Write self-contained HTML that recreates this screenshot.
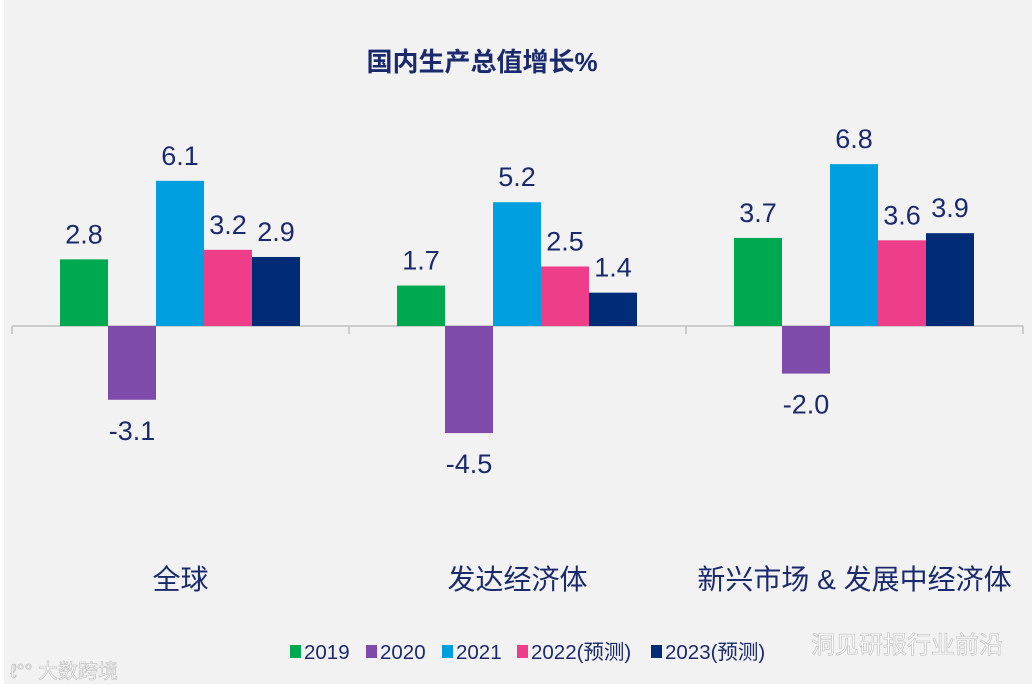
<!DOCTYPE html>
<html><head><meta charset="utf-8"><style>
body{margin:0;background:#fff;}
svg text{font-family:"Liberation Sans","Noto Sans CJK SC",sans-serif;}
</style></head><body>
<svg width="1036" height="688">
<rect x="4" y="0" width="1028" height="684" fill="#f2f2f2"/>
<text x="482" y="71" text-anchor="middle" font-size="26" font-weight="bold" fill="#1a2a6c">国内生产总值增长%</text>
<g id="bars"></g>
<g id="legend"></g>
<text x="1003" y="653" text-anchor="end" font-size="24" fill="#fff" stroke="#bbb" stroke-width="0.6">洞见研报行业前沿</text>
<text x="10" y="678" font-size="20" fill="#fff" stroke="#bbb" stroke-width="0.6">ℓ°° 大数跨境</text>
</svg>
<script>
const categories=["全球","发达经济体","新兴市场 & 发展中经济体"];
const seriesNames=["2019","2020","2021","2022(预测)","2023(预测)"];
const colors=["#00a94f","#7f4baa","#009fe0","#ee3e8a","#002b77"];
const values=[[2.8,1.7,3.7],[-3.1,-4.5,-2.0],[6.1,5.2,6.8],[3.2,2.5,3.6],[2.9,1.4,3.9]];
const NS="http://www.w3.org/2000/svg";
const base=326, unit=23.8, groupX0=12, groupW=337, barW=48, barOff=48;
const y=v=>base-v*unit;
const g=document.getElementById('bars');
function mk(t,a){const e=document.createElementNS(NS,t);for(const k in a)e.setAttribute(k,a[k]);return e;}
const axis=mk('line',{x1:12,y1:base,x2:1023,y2:base,stroke:'#bfbfbf','stroke-width':1.5});


g.appendChild(axis);
for(let i=0;i<=categories.length;i++){
 const t=mk('line',{x1:groupX0+i*groupW,y1:base,x2:groupX0+i*groupW,y2:base+8,stroke:'#bfbfbf','stroke-width':1.5});
 
 
 g.appendChild(t);
}
categories.forEach((c,ci)=>{
 const gx=groupX0+ci*groupW;
 const lab=mk('text',{x:gx+groupW/2,y:589,'text-anchor':'middle','font-size':28,fill:'#1a2a6c'});
 lab.textContent=c;
 
 
 g.appendChild(lab);
 seriesNames.forEach((s,si)=>{
  const v=values[si][ci];
  const x=gx+barOff+si*barW;
  const r=mk('rect',{x:x,y:Math.min(y(v),base),width:barW,height:Math.abs(v)*unit,fill:colors[si]});
  
  
  g.appendChild(r);
  const t=mk('text',{x:x+barW/2,y:v>=0?y(v)-16:y(v)+40,'text-anchor':'middle','font-size':27,fill:'#1a2a6c'});
  t.textContent=v.toFixed(1);
  
  
  g.appendChild(t);
 });
});
const lg=document.getElementById('legend');
const lx=[290,366,442,517,651];
seriesNames.forEach((s,i)=>{
 const r=mk('rect',{x:lx[i],y:645,width:11,height:13,fill:colors[i]});
 
 
 lg.appendChild(r);
 const t=mk('text',{x:lx[i]+14,y:659,'font-size':20.5,fill:'#1a2a6c'});
 t.textContent=s;
 
 
 lg.appendChild(t);
});
</script>
</body></html>
